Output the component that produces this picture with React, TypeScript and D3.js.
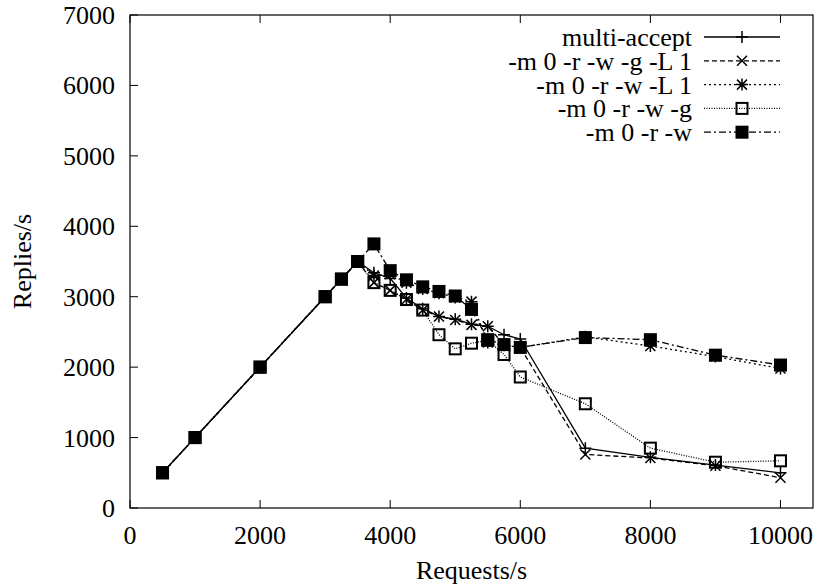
import React from "react";
import * as d3 from "d3";

// request rates (x) shared by every run
const requests = [500, 1000, 2000, 3000, 3250, 3500, 3750, 4000, 4250, 4500, 4750, 5000, 5250, 5500, 5750, 6000, 7000, 8000, 9000, 10000];

const multiAccept = [500, 1000, 2000, 3000, 3250, 3500, 3340, 3260, 2980, 2830, 2720, 2680, 2610, 2580, 2460, 2400, 850, 720, 610, 500];
const rwgL1 = [500, 1000, 2000, 3000, 3250, 3500, 3200, 3090, 2960, 2810, 2720, 2670, 2600, 2580, 2320, 2280, 760, 710, 600, 430];
const rwL1 = [500, 1000, 2000, 3000, 3250, 3500, 3300, 3320, 3200, 3110, 3050, 2990, 2930, 2350, 2310, 2280, 2430, 2300, 2150, 1980];
const rwg = [500, 1000, 2000, 3000, 3250, 3500, 3200, 3090, 2960, 2810, 2460, 2260, 2340, 2380, 2180, 1860, 1480, 850, 650, 670];
const rw = [500, 1000, 2000, 3000, 3250, 3500, 3750, 3370, 3240, 3140, 3075, 3010, 2820, 2390, 2320, 2280, 2420, 2390, 2170, 2030];

const xTicks = [0, 2000, 4000, 6000, 8000, 10000];
const yTicks = [0, 1000, 2000, 3000, 4000, 5000, 6000, 7000];

const series = [
  { name: "multi-accept", values: multiAccept, dash: "", marker: "plus" },
  { name: "-m 0 -r -w -g -L 1", values: rwgL1, dash: "5,3", marker: "cross" },
  { name: "-m 0 -r -w -L 1", values: rwL1, dash: "2,3", marker: "star" },
  { name: "-m 0 -r -w -g", values: rwg, dash: "1,1.5", marker: "box" },
  { name: "-m 0 -r -w", values: rw, dash: "7,3,2,3", marker: "fbox" },
];

const W = 817, H = 588;
const L = 130, R = 813, T = 15, B = 508;
const font = "'Liberation Serif', 'Times New Roman', serif";
const fs = 26;

function Marker({ type, x, y }: { type: string; x: number; y: number }) {
  const s = 6, c = 5;
  if (type === "plus")
    return <path d={`M${x - s},${y}H${x + s}M${x},${y - s}V${y + s}`} stroke="#000" strokeWidth={1.5} />;
  if (type === "cross")
    return <path d={`M${x - c},${y - c}L${x + c},${y + c}M${x - c},${y + c}L${x + c},${y - c}`} stroke="#000" strokeWidth={1.5} />;
  if (type === "star")
    return (
      <path
        d={`M${x - s},${y}H${x + s}M${x},${y - s}V${y + s}M${x - c},${y - c}L${x + c},${y + c}M${x - c},${y + c}L${x + c},${y - c}`}
        stroke="#000"
        strokeWidth={1.5}
      />
    );
  if (type === "box")
    return <rect x={x - 5.5} y={y - 5.5} width={11} height={11} fill="none" stroke="#000" strokeWidth={2} />;
  return <rect x={x - 6.5} y={y - 6.5} width={13} height={13} fill="#000" />;
}

export default function App() {
  const x = d3.scaleLinear().domain([0, 10500]).range([L, R]);
  const y = d3.scaleLinear().domain([0, 7000]).range([B, T]);
  const tk = 8;

  return (
    <svg width={W} height={H} style={{ position: "absolute", left: 0, top: 0, background: "#fff" }} fontFamily={font}>
      {xTicks.map((t) => (
        <g key={"x" + t}>
          <line x1={x(t)} x2={x(t)} y1={B} y2={B - tk} stroke="#000" />
          <line x1={x(t)} x2={x(t)} y1={T} y2={T + tk} stroke="#000" />
          <text x={x(t)} y={B + 36} fontSize={fs} textAnchor="middle">{t}</text>
        </g>
      ))}
      {yTicks.map((t) => (
        <g key={"y" + t}>
          <line x1={L} x2={L + tk} y1={y(t)} y2={y(t)} stroke="#000" />
          <text x={L - 15} y={y(t) + 9} fontSize={fs} textAnchor="end">{t}</text>
        </g>
      ))}
      <rect x={L} y={T} width={R - L} height={B - T} fill="none" stroke="#000" strokeWidth={1.2} />

      {series.map((s) => {
        const line = d3.line<number>().x((_, i) => x(requests[i])).y((v) => y(v));
        return (
          <g key={s.name}>
            <path d={line(s.values) || ""} fill="none" stroke="#000" strokeWidth={1.3} strokeDasharray={s.dash || undefined} />
            {s.values.map((v, i) => (
              <Marker key={i} type={s.marker} x={x(requests[i])} y={y(v)} />
            ))}
          </g>
        );
      })}

      {series.map((s, i) => {
        const ly = 37 + i * 23.8;
        return (
          <g key={"lg" + s.name}>
            <text x={692} y={ly + 9} fontSize={fs} textAnchor="end">{s.name}</text>
            <line x1={704} x2={780} y1={ly} y2={ly} stroke="#000" strokeWidth={1.3} strokeDasharray={s.dash || undefined} />
            <Marker type={s.marker} x={742} y={ly} />
          </g>
        );
      })}

      <text x={(L + R) / 2} y={579} fontSize={fs} textAnchor="middle">Requests/s</text>
      <text transform={`translate(31,${(T + B) / 2}) rotate(-90)`} fontSize={fs} textAnchor="middle">Replies/s</text>
    </svg>
  );
}
